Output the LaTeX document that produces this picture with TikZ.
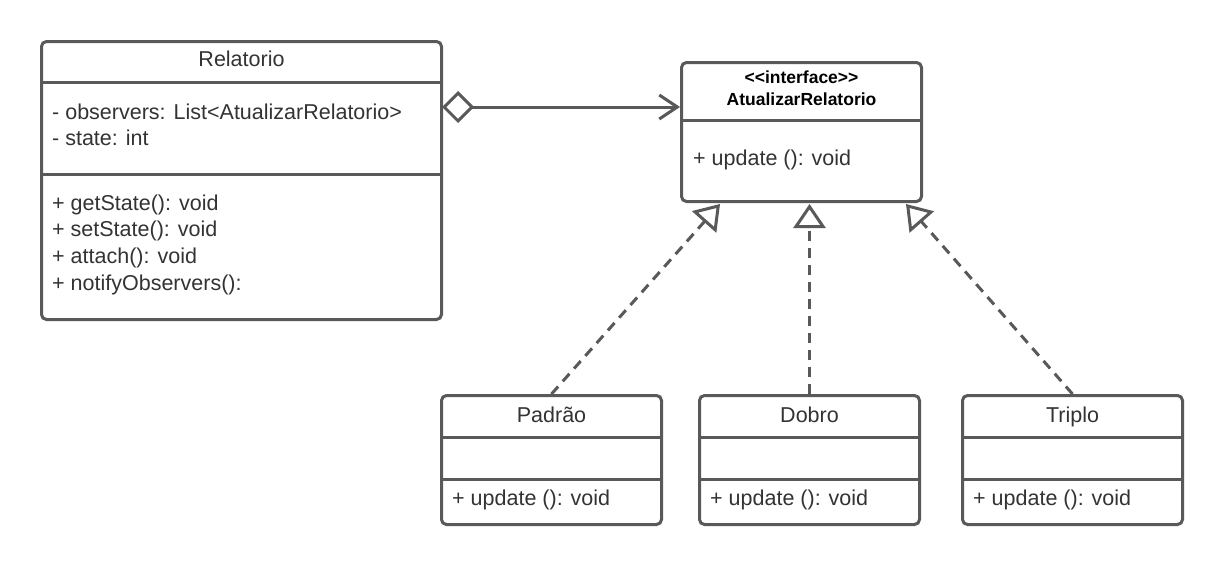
\documentclass[tikz,border=0pt]{standalone}
\usepackage{fontspec}
\setmainfont{Liberation Sans}
\usetikzlibrary{arrows.meta, positioning}
\definecolor{umlline}{RGB}{89, 89, 89}
\definecolor{umltext}{RGB}{51, 51, 51}

\begin{document}
\begin{tikzpicture}[
  x=1pt, y=-1pt,
  classbox/.style={draw=umlline, line width=3pt, rounded corners=5pt, inner sep=0pt, anchor=north west},
  divider/.style={draw=umlline, line width=3pt},
  title/.style={anchor=base, inner sep=0pt, text=umltext, font=\fontsize{21.5}{26}\selectfont},
  members/.style={anchor=base west, inner sep=0pt, text=umltext, font=\fontsize{21.5}{26}\selectfont},
  stereo/.style={anchor=base, inner sep=0pt, text=black, font=\bfseries\fontsize{17.5}{22}\selectfont},
  aggr/.style={draw=umlline, line width=3pt, {Diamond[open, length=32pt, width=32pt]}-{Straight Barb[length=18pt, width=24pt]}},
  realize/.style={draw=umlline, line width=3pt, dash pattern=on 10pt off 7pt, -{Triangle[open, length=24pt, width=32pt]}}
]
  \fill[white] (0,0) rectangle (1220,563);
  \useasboundingbox (0,0) rectangle (1220,563);

  % Subject
  \node[classbox, minimum width=400pt, minimum height=278pt] (rel) at (40,40) {};
  \draw[divider] (rel.west |- 0,82) -- (rel.east |- 0,82);
  \draw[divider] (rel.west |- 0,174) -- (rel.east |- 0,174);
  \node[title] (rel-title) at (rel.north |- 0,66) {Relatorio};
  \foreach \txt [count=\i] in {- observers: List<AtualizarRelatorio>, - state: int}
    \node[members] (rel-attr-\i) at (52,{119+26.7*(\i-1)}) {\txt};
  \foreach \txt [count=\i] in {+ getState(): void, + setState(): void, + attach(): void, + notifyObservers():}
    \node[members] (rel-meth-\i) at (52,{210+26.7*(\i-1)}) {\txt};

  % Observer interface
  \node[classbox, minimum width=240pt, minimum height=139pt] (iface) at (680,61) {};
  \draw[divider] (iface.west |- 0,120) -- (iface.east |- 0,120);
  \node[stereo] (iface-stereo) at (iface.north |- 0,83) {<{}<interface>{}>};
  \node[stereo] (iface-title) at (iface.north |- 0,105) {AtualizarRelatorio};
  \node[members] (iface-meth) at (693,165) {+ update (): void};

  % Concrete observers
  \foreach \name/\cname/\x in {padrao/Padrão/440, dobro/Dobro/698, triplo/Triplo/961} {
    \node[classbox, minimum width=220pt, minimum height=129pt] (\name) at (\x,394) {};
    \draw[divider] (\name.west |- 0,437) -- (\name.east |- 0,437);
    \draw[divider] (\name.west |- 0,479) -- (\name.east |- 0,479);
    \node[title] (\name-title) at (\name.north |- 0,422) {\cname};
    \node[members] (\name-meth) at (\x+12,505) {+ update (): void};
  }

  % Aggregation
  \coordinate (aggS) at (442,107);
  \draw[aggr] (aggS) -- (iface.west |- aggS);

  % Realizations
  \coordinate (tipL) at (720,204);
  \coordinate (tipR) at (906,204);
  \draw[realize] (padrao.north) -- (tipL);
  \draw[realize] (dobro.north) -- (dobro.north |- tipL);
  \draw[realize] (triplo.north) -- (tipR);
\end{tikzpicture}
\end{document}
